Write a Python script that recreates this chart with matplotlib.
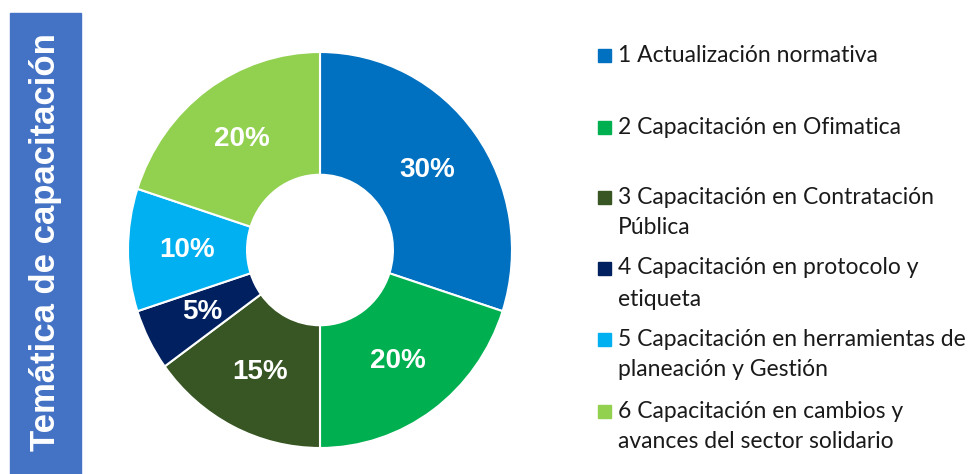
import matplotlib.pyplot as plt
from matplotlib.patches import Rectangle

# share of each training topic
topics = ["1 Actualización normativa",
          "2 Capacitación en Ofimatica",
          "3 Capacitación en Contratación\nPública",
          "4 Capacitación en protocolo y\netiqueta",
          "5 Capacitación en herramientas de\nplaneación y Gestión",
          "6 Capacitación en cambios y\navances del sector solidario"]
shares = [30, 20, 15, 5, 10, 20]
colors = ["#0070C0", "#00B050", "#375623", "#002060", "#00B0F0", "#92D050"]

W, H = 976, 474
fig = plt.figure(figsize=(W / 100, H / 100), dpi=100)

# side banner
fig.patches.append(Rectangle((10 / W, 0), 71 / W, (H - 13) / H,
                             transform=fig.transFigure, color="#4472C4", zorder=0))
fig.text(46 / W, (H - 242) / H, "Temática de capacitación", rotation=90,
         color="white", fontsize=25, fontweight="bold", family="Liberation Sans",
         ha="center", va="center")

# donut
cx, cy, rx, ry = 320, 250, 192, 198
ax = fig.add_axes([(cx - rx) / W, (H - cy - ry) / H, 2 * rx / W, 2 * ry / H])
wedges, texts, autotexts = ax.pie(
    shares, colors=colors, startangle=90, counterclock=False,
    autopct="%d%%", pctdistance=0.69,
    wedgeprops=dict(width=0.62, edgecolor="white", linewidth=1.5),
    textprops=dict(color="white", fontsize=20, fontweight="bold",
                   family="Liberation Sans"))
ax.set_aspect("auto")
ax.set_xlim(-1, 1)
ax.set_ylim(-1, 1)
ax.axis("off")

# legend, written by hand to keep the wide spacing
first_lines = [55, 127, 197, 268, 339, 411]
for label, col, y in zip(topics, colors, first_lines):
    fig.patches.append(Rectangle((598 / W, (H - y - 7) / H), 13 / W, 13 / H,
                                 transform=fig.transFigure, color=col))
    for i, line in enumerate(label.split("\n")):
        fig.text(618 / W, (H - y - 31 * i) / H, line, fontsize=16.5, family="Lato",
                 color="#1a1a1a", ha="left", va="center")

plt.savefig("out.png", dpi=100)
